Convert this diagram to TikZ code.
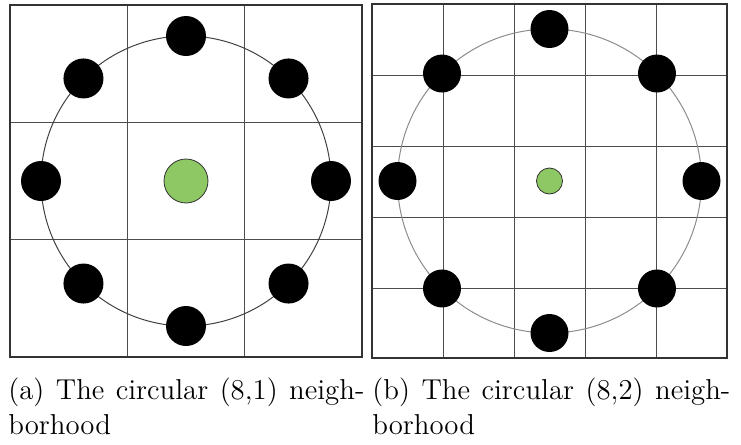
\documentclass[tikz,border=0pt]{standalone}
\usepackage{tikz}
\usetikzlibrary{positioning}

\definecolor{centregreen}{RGB}{141,200,100}
\tikzset{
  sample/.style={circle, fill=black, inner sep=0pt},
  centre/.style={circle, draw=black!80, fill=centregreen, inner sep=0pt, line width=0.4pt},
  frame/.style={draw=black!80, line width=0.7pt},
  cell/.style={draw=black!70, line width=0.5pt},
  ring/.style={line width=0.5pt},
  caption/.style={anchor=north west, inner sep=0pt, align=justify, font=\fontsize{14.4}{17.5}\selectfont}
}

\begin{document}
\begin{tikzpicture}[x=0.5pt, y=-0.5pt]
  \useasboundingbox (0,0) rectangle (741,445);

  % (a) radius 1 on a 3x3 grid
  \foreach \g in {1,2} {
    \draw[cell] (10+117.33*\g,5) -- (10+117.33*\g,357);
    \draw[cell] (10,5+117.33*\g) -- (362,5+117.33*\g);
  }
  \draw[frame] (10,5) rectangle (362,357);
  \draw[ring, black!75] (186,181) circle[radius=145];
  \node[centre, minimum size=22pt] (ca) at (186,181) {};
  \foreach \k in {0,...,7}
    \node[sample, minimum size=20pt] (a\k) at ([shift={(\k*45:145)}]186,181) {};

  % (b) radius 2 on a 5x5 grid
  \foreach \g in {1,...,4} {
    \draw[cell] (372+71*\g,4) -- (372+71*\g,358);
    \draw[cell] (372,4+71*\g) -- (727,4+71*\g);
  }
  \draw[frame] (372,4) rectangle (727,358);
  \draw[ring, black!45] (549.5,181) circle[radius=152];
  \node[centre, minimum size=13pt] (cb) at (549.5,181) {};
  \foreach \k in {0,...,7}
    \node[sample, minimum size=19pt] (b\k) at ([shift={(\k*45:152)}]549.5,181) {};

  % captions
  \node[caption, text width=178pt] (capa) at (8,377) {(a) The circular (8,1) neigh-\linebreak borhood};
  \node[caption, text width=179pt] (capb) at (372,377) {(b) The circular (8,2) neigh-\linebreak borhood};
\end{tikzpicture}
\end{document}
